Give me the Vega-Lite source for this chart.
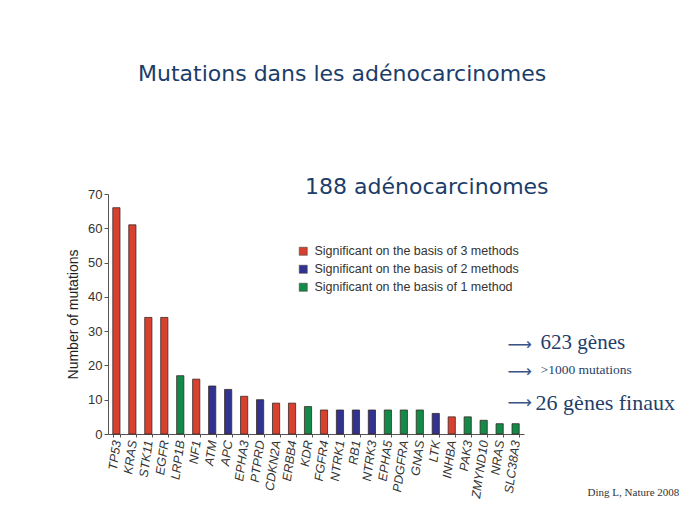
{
  "$schema": "https://vega.github.io/schema/vega-lite/v6.json",
  "autosize": {"type": "none"},
  "padding": {"left": 108, "top": 194, "right": 165, "bottom": 83},
  "width": 416,
  "height": 240,
  "background": "white",
  "title": {
    "text": "Mutations dans les adénocarcinomes",
    "anchor": "start",
    "frame": "group",
    "dx": 30,
    "offset": 90,
    "font": "DejaVu Sans",
    "fontSize": 22,
    "fontWeight": "normal",
    "color": "#1b3d6a"
  },
  "config": {
    "view": {"stroke": null},
    "font": "Liberation Sans"
  },
  "data": {
    "values": [
      {"gene": "TP53", "mutations": 66, "significance": "Significant on the basis of 3 methods"},
      {"gene": "KRAS", "mutations": 61, "significance": "Significant on the basis of 3 methods"},
      {"gene": "STK11", "mutations": 34, "significance": "Significant on the basis of 3 methods"},
      {"gene": "EGFR", "mutations": 34, "significance": "Significant on the basis of 3 methods"},
      {"gene": "LRP1B", "mutations": 17, "significance": "Significant on the basis of 1 method"},
      {"gene": "NF1", "mutations": 16, "significance": "Significant on the basis of 3 methods"},
      {"gene": "ATM", "mutations": 14, "significance": "Significant on the basis of 2 methods"},
      {"gene": "APC", "mutations": 13, "significance": "Significant on the basis of 2 methods"},
      {"gene": "EPHA3", "mutations": 11, "significance": "Significant on the basis of 3 methods"},
      {"gene": "PTPRD", "mutations": 10, "significance": "Significant on the basis of 2 methods"},
      {"gene": "CDKN2A", "mutations": 9, "significance": "Significant on the basis of 3 methods"},
      {"gene": "ERBB4", "mutations": 9, "significance": "Significant on the basis of 3 methods"},
      {"gene": "KDR", "mutations": 8, "significance": "Significant on the basis of 1 method"},
      {"gene": "FGFR4", "mutations": 7, "significance": "Significant on the basis of 3 methods"},
      {"gene": "NTRK1", "mutations": 7, "significance": "Significant on the basis of 2 methods"},
      {"gene": "RB1", "mutations": 7, "significance": "Significant on the basis of 2 methods"},
      {"gene": "NTRK3", "mutations": 7, "significance": "Significant on the basis of 2 methods"},
      {"gene": "EPHA5", "mutations": 7, "significance": "Significant on the basis of 1 method"},
      {"gene": "PDGFRA", "mutations": 7, "significance": "Significant on the basis of 1 method"},
      {"gene": "GNAS", "mutations": 7, "significance": "Significant on the basis of 1 method"},
      {"gene": "LTK", "mutations": 6, "significance": "Significant on the basis of 2 methods"},
      {"gene": "INHBA", "mutations": 5, "significance": "Significant on the basis of 3 methods"},
      {"gene": "PAK3", "mutations": 5, "significance": "Significant on the basis of 1 method"},
      {"gene": "ZMYND10", "mutations": 4, "significance": "Significant on the basis of 1 method"},
      {"gene": "NRAS", "mutations": 3, "significance": "Significant on the basis of 1 method"},
      {"gene": "SLC38A3", "mutations": 3, "significance": "Significant on the basis of 1 method"}
    ]
  },
  "encoding": {
    "x": {
      "field": "gene",
      "type": "nominal",
      "sort": null,
      "scale": {"paddingInner": 0.55, "paddingOuter": 0.3},
      "axis": {
        "title": null,
        "labelAngle": -82,
        "labelFont": "Liberation Sans",
        "labelFontStyle": "italic",
        "labelFontSize": 12.5,
        "labelColor": "#333333",
        "labelPadding": 3,
        "tickBand": "extent",
        "tickSize": 3,
        "tickColor": "#555555",
        "domainColor": "#555555"
      }
    },
    "y": {
      "field": "mutations",
      "type": "quantitative",
      "scale": {"domain": [0, 70], "nice": false},
      "axis": {
        "title": "Number of mutations",
        "titleFont": "Liberation Sans",
        "titleFontSize": 14,
        "titleFontWeight": "normal",
        "titleColor": "#222222",
        "titlePadding": 7,
        "values": [0, 10, 20, 30, 40, 50, 60, 70],
        "labelFontSize": 13,
        "labelColor": "#333333",
        "tickSize": 4,
        "tickColor": "#555555",
        "domainColor": "#555555",
        "grid": false
      }
    }
  },
  "layer": [
    {
      "mark": {"type": "bar", "stroke": "#3a2a26", "strokeWidth": 0.8},
      "encoding": {
        "color": {
          "field": "significance",
          "type": "nominal",
          "scale": {
            "domain": ["Significant on the basis of 3 methods", "Significant on the basis of 2 methods", "Significant on the basis of 1 method"],
            "range": ["#d8402f", "#30338f", "#138a48"]
          },
          "legend": {
            "title": null,
            "orient": "none",
            "legendX": 189,
            "legendY": 51,
            "padding": 0,
            "symbolType": "square",
            "symbolSize": 64,
            "symbolStrokeColor": "#444444",
            "symbolStrokeWidth": 0.6,
            "symbolOffset": 0,
            "labelFont": "Liberation Sans",
            "labelFontSize": 12.5,
            "labelColor": "#333333",
            "labelOffset": 5,
            "rowPadding": 5,
            "labelLimit": 400
          }
        }
      }
    },
    {
      "transform": [{"filter": "datum.gene == 'KDR'"}],
      "mark": {"type": "text", "align": "left", "baseline": "middle", "font": "DejaVu Sans", "fontSize": 22, "fill": "#1b3d6a", "dx": -3},
      "encoding": {"y": {"datum": 72}, "text": {"value": "188 adénocarcinomes"}}
    },
    {
      "transform": [{"filter": "datum.gene == 'SLC38A3'"}],
      "mark": {"type": "text", "align": "left", "baseline": "middle", "font": "DejaVu Sans", "fontSize": 17, "fill": "#3a5583", "dx": -8, "dy": 2},
      "encoding": {"y": {"datum": 26.5}, "text": {"value": "⟶"}}
    },
    {
      "transform": [{"filter": "datum.gene == 'SLC38A3'"}],
      "mark": {"type": "text", "align": "left", "baseline": "middle", "font": "DejaVu Sans", "fontSize": 17, "fill": "#3a5583", "dx": -8, "dy": 2},
      "encoding": {"y": {"datum": 18.7}, "text": {"value": "⟶"}}
    },
    {
      "transform": [{"filter": "datum.gene == 'SLC38A3'"}],
      "mark": {"type": "text", "align": "left", "baseline": "middle", "font": "DejaVu Sans", "fontSize": 17, "fill": "#3a5583", "dx": -8},
      "encoding": {"y": {"datum": 9}, "text": {"value": "⟶"}}
    },
    {
      "transform": [{"filter": "datum.gene == 'SLC38A3'"}],
      "mark": {"type": "text", "align": "left", "baseline": "middle", "font": "Liberation Serif", "fontSize": 21, "fill": "#1f3f6a", "dx": 25},
      "encoding": {"y": {"datum": 26.5}, "text": {"value": "623 gènes"}}
    },
    {
      "transform": [{"filter": "datum.gene == 'SLC38A3'"}],
      "mark": {"type": "text", "align": "left", "baseline": "middle", "font": "Liberation Serif", "fontSize": 13.5, "fill": "#1f3f6a", "dx": 25},
      "encoding": {"y": {"datum": 18.7}, "text": {"value": ">1000 mutations"}}
    },
    {
      "transform": [{"filter": "datum.gene == 'SLC38A3'"}],
      "mark": {"type": "text", "align": "left", "baseline": "middle", "font": "Liberation Serif", "fontSize": 22, "fill": "#1f3f6a", "dx": 20},
      "encoding": {"y": {"datum": 9}, "text": {"value": "26 gènes finaux"}}
    },
    {
      "transform": [{"filter": "datum.gene == 'SLC38A3'"}],
      "mark": {"type": "text", "align": "left", "baseline": "middle", "font": "Liberation Serif", "fontSize": 11, "fill": "#333333", "dx": 72},
      "encoding": {"y": {"datum": -17.2}, "text": {"value": "Ding L, Nature 2008"}}
    }
  ]
}
